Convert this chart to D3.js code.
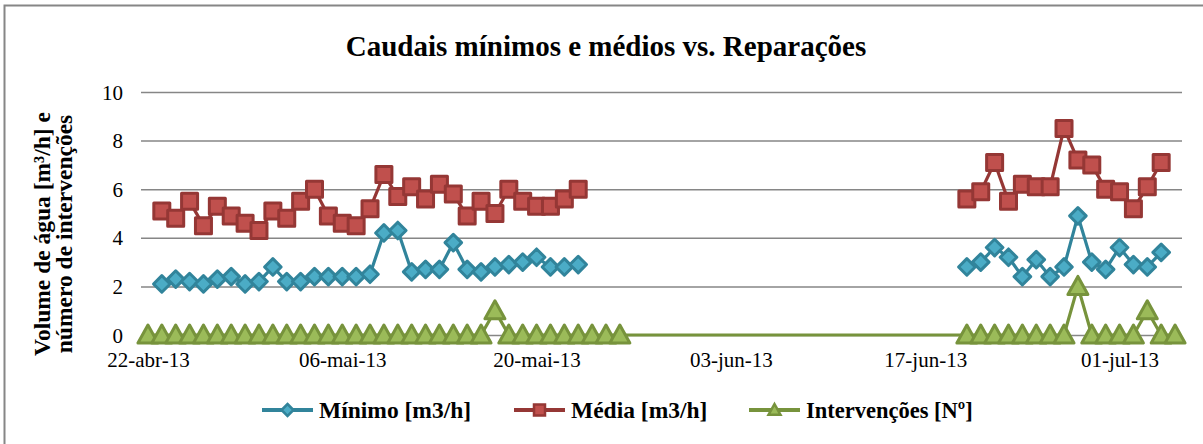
<!DOCTYPE html>
<html>
<head>
<meta charset="utf-8">
<script src="https://cdn.jsdelivr.net/npm/d3@7"></script>
<style>
  html, body { margin: 0; padding: 0; background: #fff; }
  svg { display: block; }
  text { font-family: "Liberation Serif", "Times New Roman", serif; fill: #000; }
</style>
</head>
<body>
<svg id="chart" width="1203" height="444"></svg>
<script>
// Daily series, two measurement periods
const periodo1Inicio = "2013-04-23";
const minimo1 = [2.1, 2.3, 2.2, 2.1, 2.3, 2.4, 2.1, 2.2, 2.8, 2.2, 2.2, 2.4, 2.4, 2.4, 2.4, 2.5,
                 4.2, 4.3, 2.6, 2.7, 2.7, 3.8, 2.7, 2.6, 2.8, 2.9, 3.0, 3.2, 2.8, 2.8, 2.9];
const media1 = [5.1, 4.8, 5.5, 4.5, 5.3, 4.9, 4.6, 4.3, 5.1, 4.8, 5.5, 6.0, 4.9, 4.6, 4.5, 5.2,
                6.6, 5.7, 6.1, 5.6, 6.2, 5.8, 4.9, 5.5, 5.0, 6.0, 5.5, 5.3, 5.3, 5.6, 6.0];
const interv1Inicio = "2013-04-22";
const intervencoes1 = [0, 0, 0, 0, 0, 0, 0, 0, 0, 0, 0, 0, 0, 0, 0, 0, 0, 0, 0, 0,
                       0, 0, 0, 0, 0, 1, 0, 0, 0, 0, 0, 0, 0, 0, 0];

const periodo2Inicio = "2013-06-20";
const minimo2 = [2.8, 3.0, 3.6, 3.2, 2.4, 3.1, 2.4, 2.8, 4.9, 3.0, 2.7, 3.6, 2.9, 2.8, 3.4];
const media2 = [5.6, 5.9, 7.1, 5.5, 6.2, 6.1, 6.1, 8.5, 7.2, 7.0, 6.0, 5.9, 5.2, 6.1, 7.1];
const interv2Inicio = "2013-06-20";
const intervencoes2 = [0, 0, 0, 0, 0, 0, 0, 0, 2, 0, 0, 0, 0, 1, 0, 0];

const xTickDates = ["2013-04-22", "2013-05-06", "2013-05-20", "2013-06-03", "2013-06-17", "2013-07-01"];
const yTicks = [0, 2, 4, 6, 8, 10];

const tituloGrafico = "Caudais mínimos e médios vs. Reparações";
const tituloEixoY = ["Volume de água [m³/h] e", "número de intervenções"];
const nomesSeries = ["Mínimo [m3/h]", "Média [m3/h]", "Intervenções [Nº]"];

const cores = {
  minimo: { line: "#31849b", fill: "#4bacc6" },
  media:  { line: "#953735", fill: "#c0504d" },
  interv: { line: "#77933c", fill: "#9bbb59" }
};

const parse = d3.utcParse("%Y-%m-%d");
const DAY = 864e5;

// turn a start date + daily values into points
function serie(inicio, valores) {
  const t0 = parse(inicio).getTime();
  return valores.map((v, i) => ({ date: new Date(t0 + i * DAY), value: v }));
}

const ptLocale = d3.timeFormatLocale({
  dateTime: "%d/%m/%Y %H:%M:%S", date: "%d/%m/%Y", time: "%H:%M:%S",
  periods: ["AM", "PM"],
  days: ["domingo", "segunda", "terça", "quarta", "quinta", "sexta", "sábado"],
  shortDays: ["dom", "seg", "ter", "qua", "qui", "sex", "sáb"],
  months: ["janeiro", "fevereiro", "março", "abril", "maio", "junho", "julho",
           "agosto", "setembro", "outubro", "novembro", "dezembro"],
  shortMonths: ["jan", "fev", "mar", "abr", "mai", "jun", "jul", "ago", "set", "out", "nov", "dez"]
});
const fmtData = ptLocale.utcFormat("%d-%b-%y");

const svg = d3.select("#chart");

// chart area border
svg.append("rect")
  .attr("x", 4.5).attr("y", 5.5)
  .attr("width", 1240).attr("height", 480)
  .attr("fill", "#fff").attr("stroke", "#868686").attr("stroke-width", 2);

const plot = { left: 141, right: 1182, top: 92, bottom: 335 };

const x = d3.scaleUtc()
  .domain([new Date(parse(interv1Inicio).getTime() - DAY / 2),
           new Date(parse("2013-07-05").getTime() + DAY / 2)])
  .range([plot.left, plot.right]);
const y = d3.scaleLinear().domain([0, 10]).range([plot.bottom, plot.top]);

// horizontal gridlines
const yAxis = d3.axisLeft(y).tickValues(yTicks).tickSize(-(plot.right - plot.left)).tickPadding(18).tickFormat(d3.format("d"));
const gy = svg.append("g").attr("transform", `translate(${plot.left},0)`).call(yAxis);
gy.select(".domain").remove();
gy.selectAll(".tick line").attr("stroke", "#868686").attr("stroke-width", 1.5);
gy.selectAll(".tick text").attr("font-size", 21).attr("dy", "0.34em").attr("x", -18);

// date labels
const xAxis = d3.axisBottom(x).tickValues(xTickDates.map(parse)).tickSize(0).tickPadding(0).tickFormat(fmtData);
const gx = svg.append("g").attr("transform", `translate(0,${plot.bottom})`).call(xAxis);
gx.select(".domain").remove();
gx.selectAll(".tick text").attr("font-size", 21).attr("dy", null).attr("y", 32);

const line = d3.line().x(d => x(d.date)).y(d => y(d.value));

const sMin = [serie(periodo1Inicio, minimo1), serie(periodo2Inicio, minimo2)];
const sMed = [serie(periodo1Inicio, media1), serie(periodo2Inicio, media2)];
const sInt = serie(interv1Inicio, intervencoes1).concat(serie(interv2Inicio, intervencoes2));

const markers = {
  diamond: (g, s) => g.append("path").attr("d", `M0,${-s}L${s},0L0,${s}L${-s},0Z`),
  square: (g, s) => g.append("rect").attr("x", -s).attr("y", -s).attr("width", 2 * s).attr("height", 2 * s),
  triangle: (g, s) => g.append("path").attr("d", `M0,${-s}L${s},${s * 0.8}L${-s},${s * 0.8}Z`)
};

function desenharSerie(segmentos, cor, tipo, tam) {
  const g = svg.append("g");
  segmentos.forEach(seg => {
    g.append("path").datum(seg).attr("d", line)
      .attr("fill", "none").attr("stroke", cor.line).attr("stroke-width", 3.2)
      .attr("stroke-linejoin", "round");
  });
  segmentos.flat().forEach(d => {
    const m = g.append("g").attr("transform", `translate(${x(d.date)},${y(d.value)})`);
    markers[tipo](m, tam).attr("fill", cor.fill).attr("stroke", cor.line).attr("stroke-width", 3)
      .attr("stroke-linejoin", "round");
  });
}

desenharSerie(sMin, cores.minimo, "diamond", 8.3);
desenharSerie(sMed, cores.media, "square", 8);
desenharSerie([sInt], cores.interv, "triangle", 10);

// title
svg.append("text")
  .attr("x", 606).attr("y", 56)
  .attr("text-anchor", "middle")
  .attr("font-size", 29).attr("font-weight", "bold")
  .text(tituloGrafico);

// y axis title (two lines)
const yt = svg.append("text")
  .attr("transform", "translate(52,234) rotate(-90)")
  .attr("text-anchor", "middle")
  .attr("font-size", 23.5).attr("font-weight", "bold");
tituloEixoY.forEach((t, i) => {
  yt.append("tspan").attr("x", 0).attr("y", i === 0 ? -2 : 20).text(t);
});

// legend
const legenda = [
  { nome: nomesSeries[0], cor: cores.minimo, tipo: "diamond", x0: 262, tam: 6, fs: 23.5 },
  { nome: nomesSeries[1], cor: cores.media, tipo: "square", x0: 514, tam: 5.5, fs: 23.5 },
  { nome: nomesSeries[2], cor: cores.interv, tipo: "triangle", x0: 749, tam: 6, fs: 22.5 }
];
const ly = 410;
legenda.forEach(l => {
  const g = svg.append("g");
  g.append("line").attr("x1", l.x0).attr("x2", l.x0 + 51).attr("y1", ly).attr("y2", ly)
    .attr("stroke", l.cor.line).attr("stroke-width", 4);
  const m = g.append("g").attr("transform", `translate(${l.x0 + 25.5},${ly})`);
  markers[l.tipo](m, l.tam).attr("fill", l.cor.fill).attr("stroke", l.cor.line).attr("stroke-width", 2.5);
  g.append("text").attr("x", l.x0 + 57).attr("y", ly).attr("dy", "0.35em")
    .attr("font-size", l.fs).attr("font-weight", "bold").text(l.nome);
});
</script>
</body>
</html>
